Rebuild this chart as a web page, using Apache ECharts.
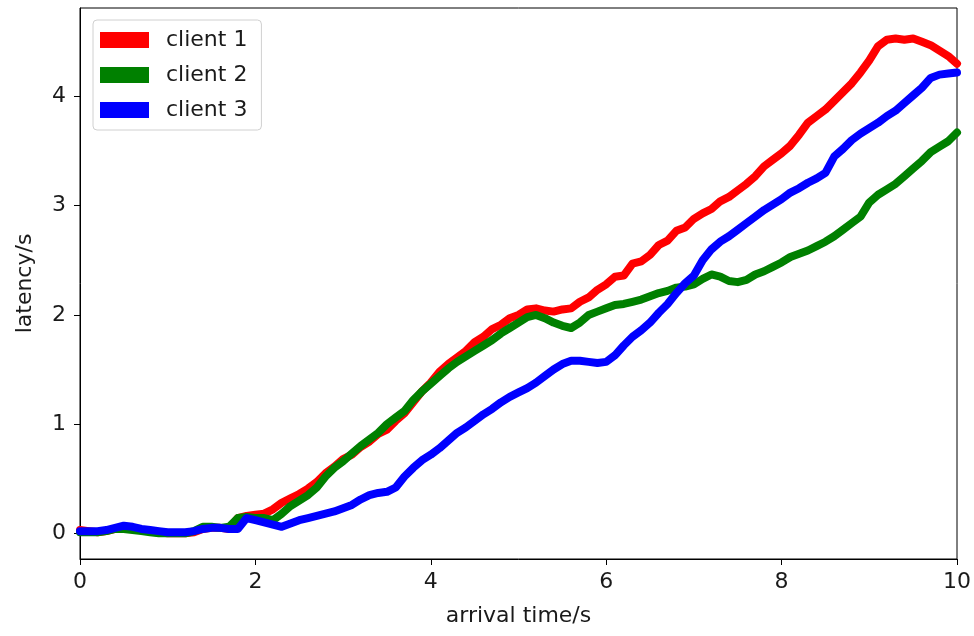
<!DOCTYPE html>
<html>
<head>
<meta charset="utf-8">
<script src="https://cdn.jsdelivr.net/npm/echarts@6/dist/echarts.min.js"></script>
<style>
  html, body { margin: 0; padding: 0; background: #fff; }
  #chart { width: 974px; height: 636px; }
</style>
</head>
<body>
<div id="chart"></div>
<script>
// arrival times (s), step 0.1
const times = [];
for (let i = 0; i <= 100; i++) times.push(+(i / 10).toFixed(1));

const seriesNames = ['client 1', 'client 2', 'client 3'];

const client1 = [
  0.03, 0.02, 0.01, 0.02, 0.04, 0.05, 0.04, 0.03, 0.02, 0.01,
  0.00, 0.00, 0.00, 0.01, 0.04, 0.05, 0.05, 0.04, 0.14, 0.16,
  0.17, 0.18, 0.22, 0.28, 0.32, 0.36, 0.41, 0.47, 0.55, 0.61,
  0.68, 0.72, 0.79, 0.84, 0.91, 0.95, 1.03, 1.10, 1.20, 1.30,
  1.38, 1.48, 1.55, 1.61, 1.67, 1.75, 1.80, 1.87, 1.91, 1.97,
  2.00, 2.05, 2.06, 2.04, 2.03, 2.05, 2.06, 2.12, 2.16, 2.23,
  2.28, 2.35, 2.36, 2.47, 2.49, 2.55, 2.64, 2.68, 2.77, 2.80,
  2.88, 2.93, 2.97, 3.04, 3.08, 3.14, 3.20, 3.27, 3.36, 3.42,
  3.48, 3.55, 3.65, 3.76, 3.82, 3.88, 3.96, 4.04, 4.12, 4.22,
  4.33, 4.46, 4.52, 4.53, 4.52, 4.53, 4.50, 4.47, 4.42, 4.37,
  4.30
];

const client2 = [
  0.01, 0.01, 0.01, 0.02, 0.04, 0.04, 0.03, 0.02, 0.01, 0.00,
  0.00, 0.00, 0.00, 0.02, 0.06, 0.06, 0.05, 0.06, 0.14, 0.15,
  0.14, 0.14, 0.12, 0.18, 0.25, 0.30, 0.35, 0.42, 0.52, 0.60,
  0.66, 0.73, 0.80, 0.86, 0.92, 1.00, 1.06, 1.12, 1.22, 1.30,
  1.37, 1.44, 1.51, 1.57, 1.62, 1.67, 1.72, 1.77, 1.83, 1.88,
  1.93, 1.98, 2.00, 1.97, 1.93, 1.90, 1.88, 1.93, 2.00, 2.03,
  2.06, 2.09, 2.10, 2.12, 2.14, 2.17, 2.20, 2.22, 2.25, 2.26,
  2.28, 2.33, 2.37, 2.35, 2.31, 2.30, 2.32, 2.37, 2.40, 2.44,
  2.48, 2.53, 2.56, 2.59, 2.63, 2.67, 2.72, 2.78, 2.84, 2.90,
  3.03, 3.10, 3.15, 3.20, 3.27, 3.34, 3.41, 3.49, 3.54, 3.59,
  3.67
];

const client3 = [
  0.02, 0.02, 0.02, 0.03, 0.05, 0.07, 0.06, 0.04, 0.03, 0.02,
  0.01, 0.01, 0.01, 0.02, 0.04, 0.05, 0.05, 0.04, 0.04, 0.14,
  0.12, 0.10, 0.08, 0.06, 0.09, 0.12, 0.14, 0.16, 0.18, 0.20,
  0.23, 0.26, 0.31, 0.35, 0.37, 0.38, 0.42, 0.52, 0.60, 0.67,
  0.72, 0.78, 0.85, 0.92, 0.97, 1.03, 1.09, 1.14, 1.20, 1.25,
  1.29, 1.33, 1.38, 1.44, 1.50, 1.55, 1.58, 1.58, 1.57, 1.56,
  1.57, 1.63, 1.72, 1.80, 1.86, 1.93, 2.02, 2.10, 2.20, 2.29,
  2.36, 2.50, 2.60, 2.67, 2.72, 2.78, 2.84, 2.90, 2.96, 3.01,
  3.06, 3.12, 3.16, 3.21, 3.25, 3.30, 3.45, 3.52, 3.60, 3.66,
  3.71, 3.76, 3.82, 3.87, 3.94, 4.01, 4.08, 4.17, 4.20, 4.21,
  4.22
];

const yTicks = [0, 1, 2, 3, 4];
const xTicks = [0, 2, 4, 6, 8, 10];
const colors = ['#ff0000', '#008000', '#0000ff'];

const allData = [client1, client2, client3];
const FONT = 'DejaVu Sans';
const TXT = '#1a1a1a';
const FS = 22;

const chart = echarts.init(document.getElementById('chart'), null, { renderer: 'canvas' });
chart.setOption({
  animation: false,
  backgroundColor: '#ffffff',
  grid: {
    left: 80, right: 16, top: 8, bottom: 77,
    show: true, borderColor: '#000', borderWidth: 1, backgroundColor: 'transparent'
  },
  legend: {
    orient: 'vertical',
    left: 93, top: 20,
    data: seriesNames.map((n, i) => ({ name: n, icon: 'rect', itemStyle: { color: colors[i] } })),
    itemWidth: 49, itemHeight: 16, itemGap: 13,
    padding: [9, 14, 9, 7],
    borderColor: '#d0d0d0', borderWidth: 1, borderRadius: 4,
    backgroundColor: '#ffffff',
    textStyle: { fontFamily: FONT, fontSize: FS, color: TXT, padding: [0, 0, 0, 12] }
  },
  xAxis: {
    type: 'value', min: 0, max: 10, interval: 2,
    name: 'arrival time/s', nameLocation: 'middle', nameGap: 46,
    nameTextStyle: { fontFamily: FONT, fontSize: FS, color: TXT },
    axisLine: { show: true, onZero: false, lineStyle: { color: '#000', width: 1 } },
    axisTick: { show: true, length: 6, inside: false, lineStyle: { color: '#000' } },
    axisLabel: { fontFamily: FONT, fontSize: FS, color: TXT, margin: 12,
      customValues: xTicks },
    splitLine: { show: false }
  },
  yAxis: {
    type: 'value', min: -0.235, max: 4.81,
    name: 'latency/s', nameLocation: 'middle', nameGap: 44,
    nameTextStyle: { fontFamily: FONT, fontSize: FS, color: TXT },
    axisLine: { show: true, onZero: false, lineStyle: { color: '#000', width: 1 } },
    axisTick: { show: true, length: 6, inside: false, lineStyle: { color: '#000' }, customValues: yTicks },
    axisLabel: { fontFamily: FONT, fontSize: FS, color: TXT, margin: 14, customValues: yTicks },
    splitLine: { show: false }
  },
  series: allData.map((arr, i) => ({
    name: seriesNames[i],
    type: 'line',
    data: times.map((t, k) => [t, arr[k]]),
    showSymbol: false,
    symbol: 'none',
    z: 2 + i,
    lineStyle: { color: colors[i], width: 8, join: 'round', cap: 'round' },
    itemStyle: { color: colors[i] },
    clip: true
  }))
});
</script>
</body>
</html>
